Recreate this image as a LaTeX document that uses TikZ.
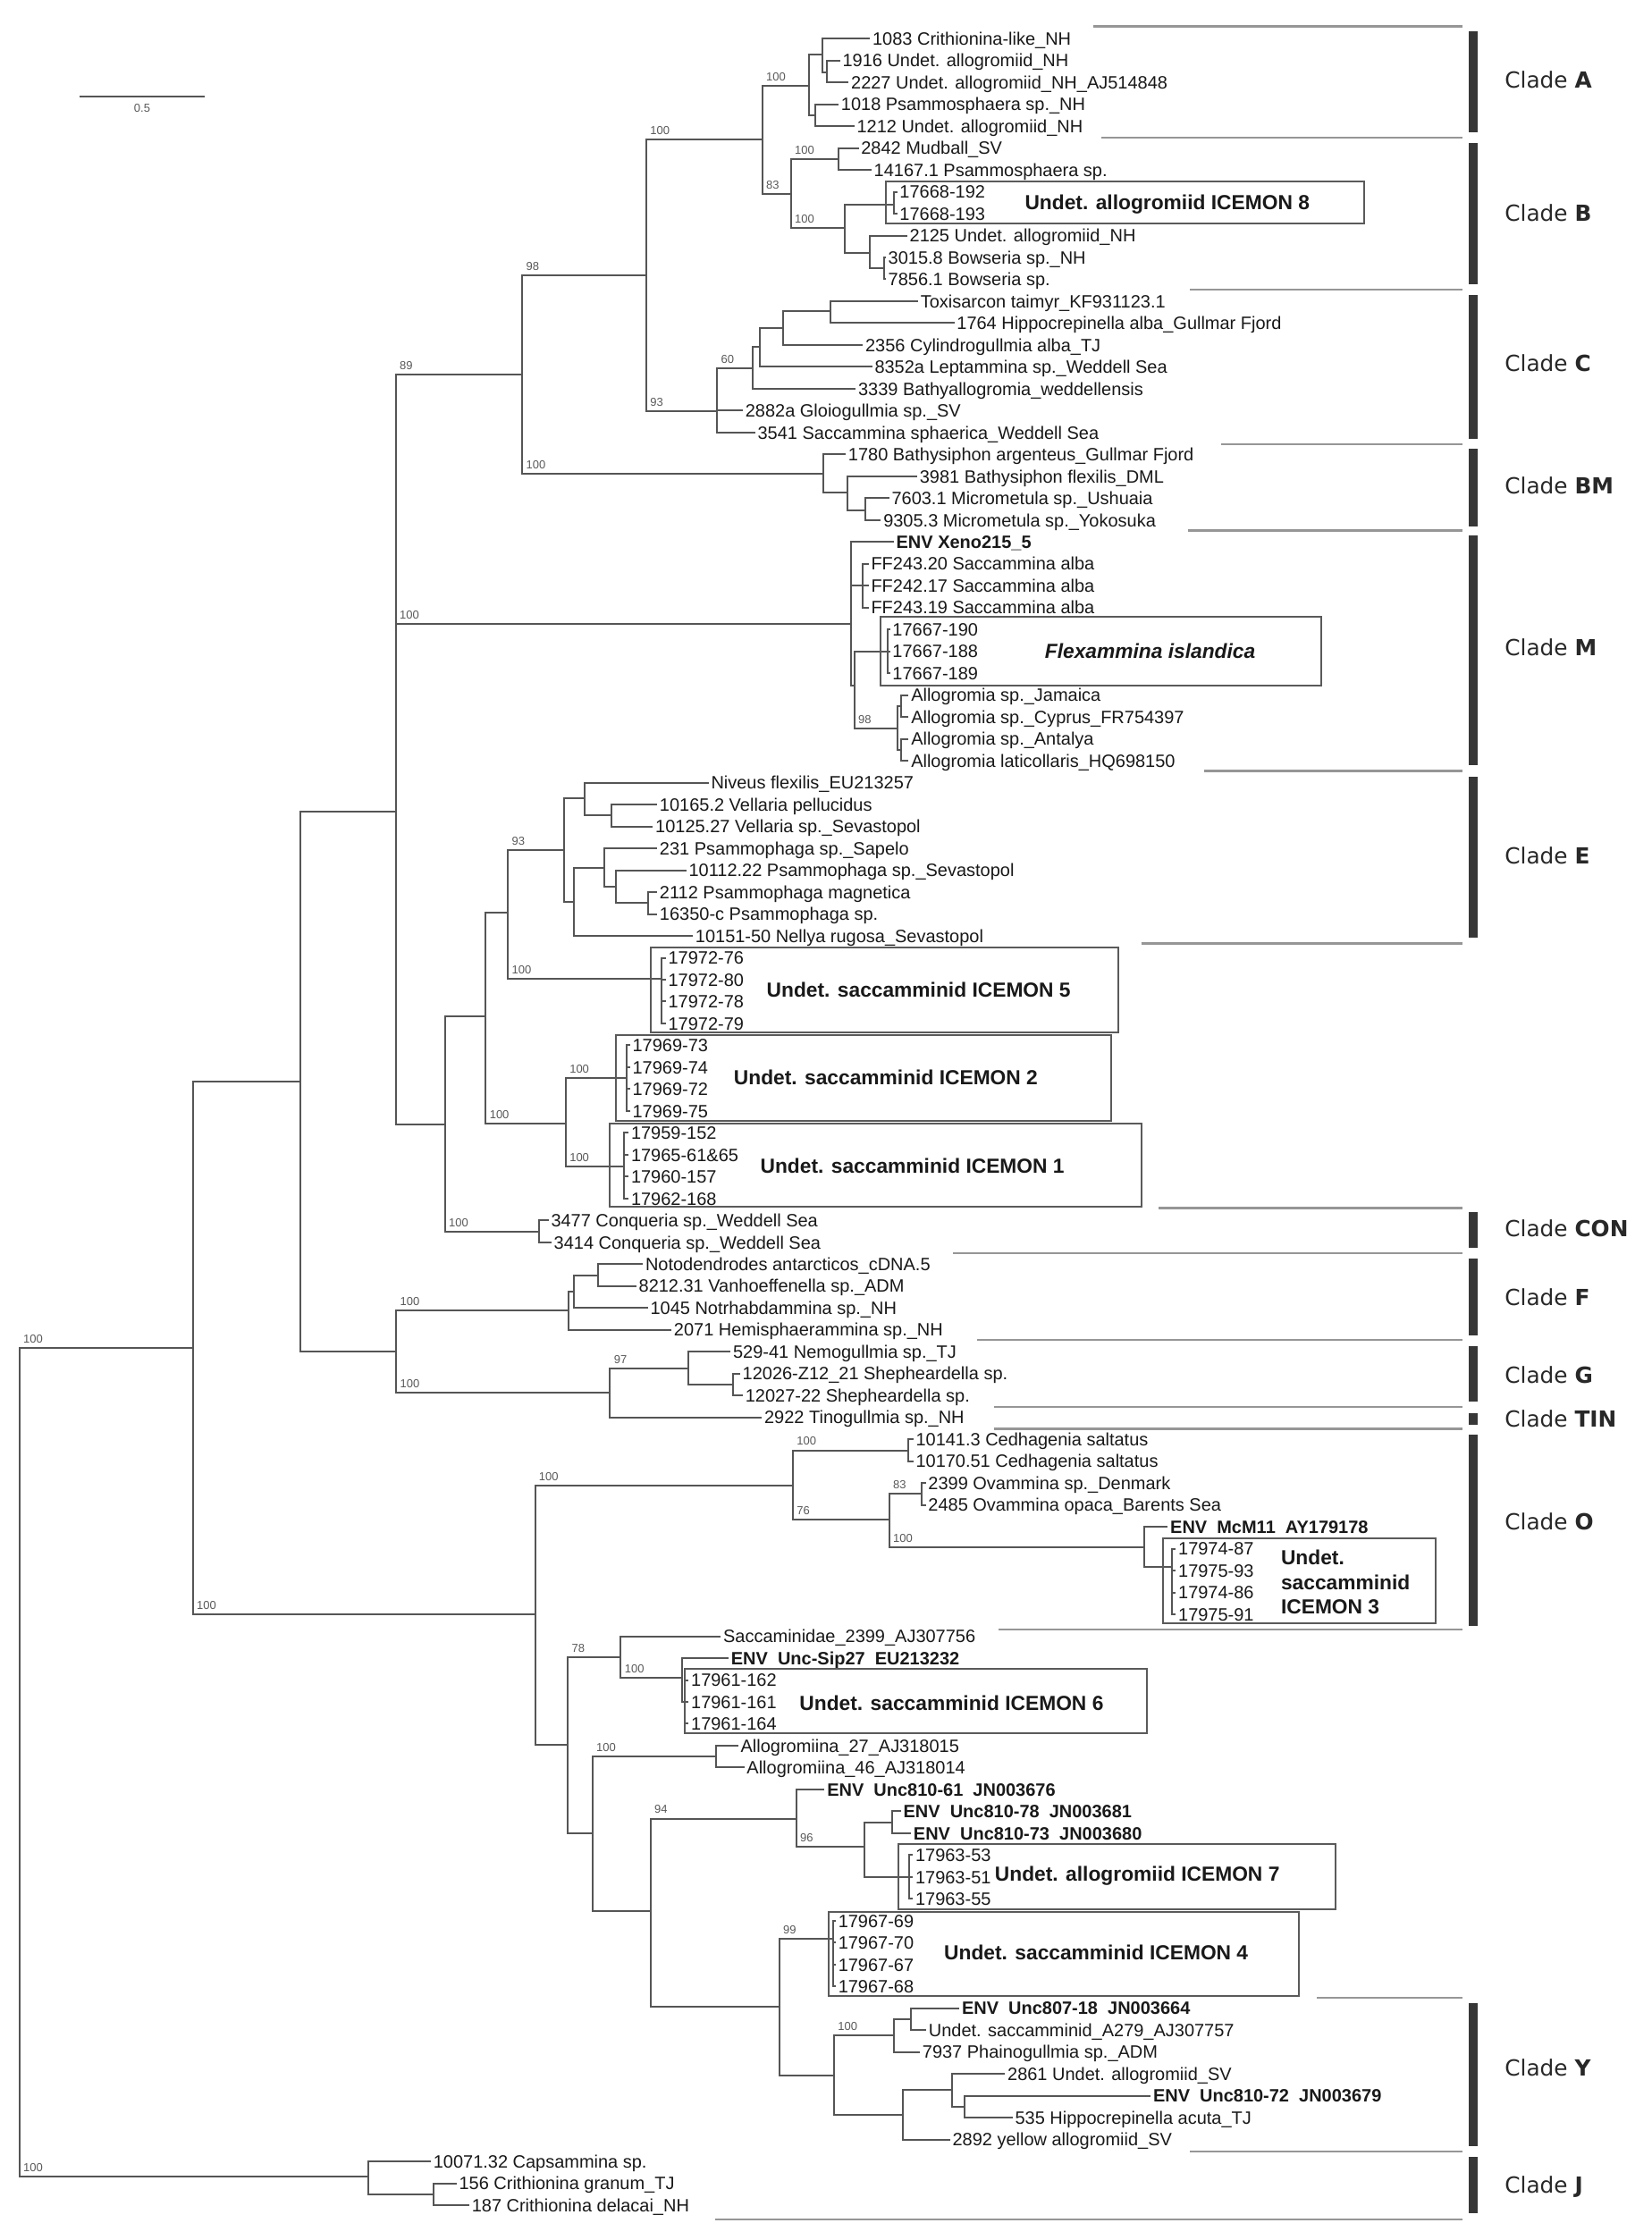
\documentclass[tikz,border=0pt]{standalone}
\usepackage{fontspec}
\setmainfont{Liberation Sans}
\newfontfamily\cladefont{DejaVu Sans}
\definecolor{brc}{RGB}{85,85,85}
\definecolor{bsc}{RGB}{90,90,90}
\definecolor{sepc}{RGB}{150,150,150}
\definecolor{barc}{RGB}{55,55,55}
\definecolor{boxc}{RGB}{90,90,90}
\definecolor{cladec}{RGB}{40,40,40}
\definecolor{taxc}{RGB}{25,25,25}
\tikzset{
 br/.style={draw=brc, line width=1pt},
 tax/.style={anchor=base west, inner sep=0pt, xshift=1.2pt, yshift=-3.6pt, font=\fontsize{10}{12}\selectfont, text=taxc},
 taxb/.style={tax, font=\fontsize{10}{12}\selectfont\bfseries},
 bsl/.style={anchor=base west, inner sep=0pt, font=\fontsize{6.5}{7}\selectfont, text=bsc},
 grp/.style={inner sep=0pt, font=\fontsize{11.4}{13.7}\selectfont\bfseries, text=taxc},
 sep/.style={draw=sepc, line width=1.1pt},
 gbox/.style={draw=boxc, line width=1pt},
 clade/.style={anchor=west, inner sep=0pt, font=\cladefont\fontsize{12.4}{14}\selectfont, text=cladec},
}
\newcommand\lf[5]{%
 \pgfmathsetmacro\ly{27+15.32*#3}%
 \coordinate (#1) at (#2,\ly);
 \draw[br] (#4) |- (#1);
 \node[tax] (#1t) at (#1) {#5};}
\newcommand\lfb[5]{%
 \pgfmathsetmacro\ly{27+15.32*#3}%
 \coordinate (#1) at (#2,\ly);
 \draw[br] (#4) |- (#1);
 \node[taxb] (#1t) at (#1) {#5};}
\newcommand\bsv[4]{\node[bsl] (#1) at (#2+2.5,#3-3.5) {#4};}
\begin{document}
\begin{tikzpicture}[x=0.8pt,y=-0.8pt]
\fill[white] (0,0) rectangle (1156,1568);
\useasboundingbox (0,0) rectangle (1156,1568);
% internal nodes
\coordinate (R) at (13.6,1233);
\coordinate (N1) at (135,943.8);
\coordinate (N2) at (210,757);
\coordinate (N3) at (277,568);
\coordinate (NFG) at (277.4,946);
\coordinate (N89) at (365.6,262);
\coordinate (NM) at (595.5,437);
\coordinate (NEp) at (311.5,787);
\coordinate (N98) at (452.4,193);
\coordinate (NBM) at (576,331.5);
\coordinate (NAB) at (533.6,97.5);
\coordinate (NC) at (502,288);
\coordinate (NA) at (566,60);
\coordinate (NB) at (553.6,136);
\coordinate (NA1) at (575.6,38);
\coordinate (NA1b) at (579,50.5);
\coordinate (NA2) at (570.6,81);
\coordinate (NB1) at (586.6,111.5);
\coordinate (NB2) at (591,159.6);
\coordinate (NI8) at (625.6,143);
\coordinate (NB3) at (609,177);
\coordinate (NB4) at (619,188);
\coordinate (NC60) at (527,258);
\coordinate (NC2) at (531.6,243);
\coordinate (NC3) at (548,229.4);
\coordinate (NC4) at (581.4,218);
\coordinate (NBM2) at (593.4,345);
\coordinate (NBM3) at (605.6,357);
\coordinate (NM2) at (603.6,410);
\coordinate (NM3) at (598,480);
\coordinate (NFlex) at (621,456);
\coordinate (NAllo) at (628.5,510);
\coordinate (NAl1) at (631,494);
\coordinate (NAl2) at (631,525);
\coordinate (N340) at (340,711.7);
\coordinate (NCon) at (377,862);
\coordinate (N355) at (355.6,639);
\coordinate (N396) at (396,786.5);
\coordinate (NE) at (395,595);
\coordinate (NI5) at (463,685);
\coordinate (NE1) at (409,558.6);
\coordinate (NVel) at (428,570.5);
\coordinate (NE2) at (401.6,631.5);
\coordinate (NPs) at (422.7,607.4);
\coordinate (NPs2) at (431.4,620.5);
\coordinate (NPs3) at (453.4,631.8);
\coordinate (NI2) at (438.9,754.4);
\coordinate (NI1) at (436.6,816.3);
\coordinate (NF) at (398,917.5);
\coordinate (NF1) at (401.6,904);
\coordinate (NF2) at (418.3,892.6);
\coordinate (NG) at (427,975);
\coordinate (NG1) at (481.5,957.7);
\coordinate (NG2) at (512.8,969.2);
\coordinate (NO) at (374.5,1130);
\coordinate (NOc) at (555,1040);
\coordinate (NS) at (397.5,1221.6);
\coordinate (NCed) at (636,1015.2);
\coordinate (NO2) at (622.4,1063.8);
\coordinate (NOv) at (645,1045.8);
\coordinate (NMc) at (800.7,1083.2);
\coordinate (NI3) at (820.5,1096.6);
\coordinate (N78) at (434.5,1160.2);
\coordinate (NI6p) at (477.6,1174.2);
\coordinate (NI6) at (479,1191.4);
\coordinate (NAl) at (414.7,1283);
\coordinate (NAg) at (500.9,1229.6);
\coordinate (N94) at (455.3,1338);
\coordinate (N96) at (557.4,1273);
\coordinate (N96b) at (604.8,1292.8);
\coordinate (N78b) at (624.5,1275.7);
\coordinate (NI7) at (636.4,1313.9);
\coordinate (N99) at (545.5,1404.8);
\coordinate (NI4) at (582.9,1357.4);
\coordinate (NY) at (583.8,1452.7);
\coordinate (NY1) at (625.5,1424.8);
\coordinate (NY1a) at (637.3,1413.5);
\coordinate (NY2) at (632,1480.5);
\coordinate (NY2a) at (666.2,1462.7);
\coordinate (NY2b) at (675,1474.8);
\coordinate (NJ) at (257.5,1523.5);
\coordinate (NJ2) at (303.4,1536);
% internal branches
\foreach \p/\c in {R/N1,R/NJ,N1/N2,N1/NO,N2/N3,N2/NFG,N3/N89,N3/NM,N3/NEp,N89/N98,N89/NBM,N98/NAB,N98/NC,NAB/NA,NAB/NB,NA/NA1,NA/NA2,NA1/NA1b,NB/NB1,NB/NB2,NB2/NI8,NB2/NB3,NB3/NB4,NC/NC60,NC60/NC2,NC2/NC3,NC3/NC4,NBM/NBM2,NBM2/NBM3,NM/NM2,NM/NM3,NM3/NFlex,NM3/NAllo,NAllo/NAl1,NAllo/NAl2,NEp/N340,NEp/NCon,N340/N355,N340/N396,N355/NE,N355/NI5,NE/NE1,NE/NE2,NE1/NVel,NE2/NPs,NPs/NPs2,NPs2/NPs3,N396/NI2,N396/NI1,NFG/NF,NFG/NG,NF/NF1,NF1/NF2,NG/NG1,NG1/NG2,NO/NOc,NO/NS,NOc/NCed,NOc/NO2,NO2/NOv,NO2/NMc,NMc/NI3,NS/N78,NS/NAl,N78/NI6p,NI6p/NI6,NAl/NAg,NAl/N94,N94/N96,N94/N99,N96/N96b,N96b/N78b,N96b/NI7,N99/NI4,N99/NY,NY/NY1,NY/NY2,NY1/NY1a,NY2/NY2a,NY2a/NY2b,NJ/NJ2}
  \draw[br] (\p) |- (\c);
% leaves
\lf{L0}{609}{0}{NA1}{1083 Crithionina-like\_NH}
\lf{L1}{588}{1}{NA1b}{1916 Undet. allogromiid\_NH}
\lf{L2}{594}{2}{NA1b}{2227 Undet. allogromiid\_NH\_AJ514848}
\lf{L3}{587}{3}{NA2}{1018 Psammosphaera sp.\_NH}
\lf{L4}{598}{4}{NA2}{1212 Undet. allogromiid\_NH}
\lf{L5}{601}{5}{NB1}{2842 Mudball\_SV}
\lf{L6}{610}{6}{NB1}{14167.1 Psammosphaera sp.}
\lf{L7}{628}{7}{NI8}{17668-192}
\lf{L8}{628}{8}{NI8}{17668-193}
\lf{L9}{635}{9}{NB3}{2125 Undet. allogromiid\_NH}
\lf{L10}{620}{10}{NB4}{3015.8 Bowseria sp.\_NH}
\lf{L11}{620}{11}{NB4}{7856.1 Bowseria sp.}
\lf{L12}{642.6}{12}{NC4}{Toxisarcon taimyr\_KF931123.1}
\lf{L13}{668}{13}{NC4}{1764 Hippocrepinella alba\_Gullmar Fjord}
\lf{L14}{604}{14}{NC3}{2356 Cylindrogullmia alba\_TJ}
\lf{L15}{610.5}{15}{NC2}{8352a Leptammina sp.\_Weddell Sea}
\lf{L16}{599}{16}{NC60}{3339 Bathyallogromia\_weddellensis}
\lf{L17}{520}{17}{NC}{2882a Gloiogullmia sp.\_SV}
\lf{L18}{528.6}{18}{NC}{3541 Saccammina sphaerica\_Weddell Sea}
\lf{L19}{592}{19}{NBM}{1780 Bathysiphon argenteus\_Gullmar Fjord}
\lf{L20}{642}{20}{NBM2}{3981 Bathysiphon flexilis\_DML}
\lf{L21}{622.4}{21}{NBM3}{7603.1 Micrometula sp.\_Ushuaia}
\lf{L22}{616.6}{22}{NBM3}{9305.3 Micrometula sp.\_Yokosuka}
\lfb{L23}{625.6}{23}{NM}{ENV Xeno215\_5}
\lf{L24}{608}{24}{NM2}{FF243.20 Saccammina alba}
\lf{L25}{608}{25}{NM2}{FF242.17 Saccammina alba}
\lf{L26}{608}{26}{NM2}{FF243.19 Saccammina alba}
\lf{L27}{623}{27}{NFlex}{17667-190}
\lf{L28}{623}{28}{NFlex}{17667-188}
\lf{L29}{623}{29}{NFlex}{17667-189}
\lf{L30}{636}{30}{NAl1}{Allogromia sp.\_Jamaica}
\lf{L31}{636}{31}{NAl1}{Allogromia sp.\_Cyprus\_FR754397}
\lf{L32}{636}{32}{NAl2}{Allogromia sp.\_Antalya}
\lf{L33}{636}{33}{NAl2}{Allogromia laticollaris\_HQ698150}
\lf{L34}{496}{34}{NE1}{Niveus flexilis\_EU213257}
\lf{L35}{460}{35}{NVel}{10165.2 Vellaria pellucidus}
\lf{L36}{457}{36}{NVel}{10125.27 Vellaria sp.\_Sevastopol}
\lf{L37}{460}{37}{NPs}{231 Psammophaga sp.\_Sapelo}
\lf{L38}{480.4}{38}{NPs2}{10112.22 Psammophaga sp.\_Sevastopol}
\lf{L39}{460}{39}{NPs3}{2112 Psammophaga magnetica}
\lf{L40}{460}{40}{NPs3}{16350-c Psammophaga sp.}
\lf{L41}{485}{41}{NE2}{10151-50 Nellya rugosa\_Sevastopol}
\lf{L42}{466}{42}{NI5}{17972-76}
\lf{L43}{466}{43}{NI5}{17972-80}
\lf{L44}{466}{44}{NI5}{17972-78}
\lf{L45}{466}{45}{NI5}{17972-79}
\lf{L46}{441}{46}{NI2}{17969-73}
\lf{L47}{441}{47}{NI2}{17969-74}
\lf{L48}{441}{48}{NI2}{17969-72}
\lf{L49}{441}{49}{NI2}{17969-75}
\lf{L50}{440}{50}{NI1}{17959-152}
\lf{L51}{440}{51}{NI1}{17965-61\&65}
\lf{L52}{440}{52}{NI1}{17960-157}
\lf{L53}{440}{53}{NI1}{17962-168}
\lf{L54}{384}{54}{NCon}{3477 Conqueria sp.\_Weddell Sea}
\lf{L55}{386}{55}{NCon}{3414 Conqueria sp.\_Weddell Sea}
\lf{L56}{450}{56}{NF2}{Notodendrodes antarcticos\_cDNA.5}
\lf{L57}{445.4}{57}{NF2}{8212.31 Vanhoeffenella sp.\_ADM}
\lf{L58}{453.5}{58}{NF1}{1045 Notrhabdammina sp.\_NH}
\lf{L59}{470}{59}{NF}{2071 Hemisphaerammina sp.\_NH}
\lf{L60}{511.4}{60}{NG1}{529-41 Nemogullmia sp.\_TJ}
\lf{L61}{518}{61}{NG2}{12026-Z12\_21 Shepheardella sp.}
\lf{L62}{520}{62}{NG2}{12027-22 Shepheardella sp.}
\lf{L63}{533.3}{63}{NG}{2922 Tinogullmia sp.\_NH}
\lf{L64}{639.3}{64}{NCed}{10141.3 Cedhagenia saltatus}
\lf{L65}{639.3}{65}{NCed}{10170.51 Cedhagenia saltatus}
\lf{L66}{648}{66}{NOv}{2399 Ovammina sp.\_Denmark}
\lf{L67}{648}{67}{NOv}{2485 Ovammina opaca\_Barents Sea}
\lfb{L68}{817.4}{68}{NMc}{ENV~~McM11~~AY179178}
\lf{L69}{823}{69}{NI3}{17974-87}
\lf{L70}{823}{70}{NI3}{17975-93}
\lf{L71}{823}{71}{NI3}{17974-86}
\lf{L72}{823}{72}{NI3}{17975-91}
\lf{L73}{504.5}{73}{N78}{Saccaminidae\_2399\_AJ307756}
\lfb{L74}{510}{74}{NI6p}{ENV~~Unc-Sip27~~EU213232}
\lf{L75}{482}{75}{NI6}{17961-162}
\lf{L76}{482}{76}{NI6}{17961-161}
\lf{L77}{482}{77}{NI6}{17961-164}
\lf{L78}{516.7}{78}{NAg}{Allogromiina\_27\_AJ318015}
\lf{L79}{521}{79}{NAg}{Allogromiina\_46\_AJ318014}
\lfb{L80}{577.2}{80}{N96}{ENV~~Unc810-61~~JN003676}
\lfb{L81}{630.6}{81}{N78b}{ENV~~Unc810-78~~JN003681}
\lfb{L82}{637.7}{82}{N78b}{ENV~~Unc810-73~~JN003680}
\lf{L83}{639}{83}{NI7}{17963-53}
\lf{L84}{639}{84}{NI7}{17963-51}
\lf{L85}{639}{85}{NI7}{17963-55}
\lf{L86}{585}{86}{NI4}{17967-69}
\lf{L87}{585}{87}{NI4}{17967-70}
\lf{L88}{585}{88}{NI4}{17967-67}
\lf{L89}{585}{89}{NI4}{17967-68}
\lfb{L90}{671.5}{90}{NY1a}{ENV~~Unc807-18~~JN003664}
\lf{L91}{648.3}{91}{NY1a}{Undet. saccamminid\_A279\_AJ307757}
\lf{L92}{643.9}{92}{NY1}{7937 Phainogullmia sp.\_ADM}
\lf{L93}{703.5}{93}{NY2a}{2861 Undet. allogromiid\_SV}
\lfb{L94}{805.4}{94}{NY2b}{ENV~~Unc810-72~~JN003679}
\lf{L95}{708.8}{95}{NY2b}{535 Hippocrepinella acuta\_TJ}
\lf{L96}{665}{96}{NY2}{2892 yellow allogromiid\_SV}
\lf{L97}{301.6}{97}{NJ}{10071.32 Capsammina sp.}
\lf{L98}{319.6}{98}{NJ2}{156 Crithionina granum\_TJ}
\lf{L99}{328.5}{99}{NJ2}{187 Crithionina delacai\_NH}
% bootstrap values
\bsv{b1}{13.6}{943.8}{100}
\bsv{b2}{13.6}{1523.5}{100}
\bsv{b3}{135}{1130}{100}
\bsv{b4}{277}{262}{89}
\bsv{b5}{277}{437}{100}
\bsv{b6}{365.6}{193}{98}
\bsv{b7}{365.6}{331.5}{100}
\bsv{b8}{452.4}{97.5}{100}
\bsv{b9}{452.4}{288}{93}
\bsv{b10}{533.6}{60}{100}
\bsv{b11}{533.6}{136}{83}
\bsv{b12}{553.6}{111.5}{100}
\bsv{b13}{553.6}{159.6}{100}
\bsv{b14}{502}{258}{60}
\bsv{b15}{355.6}{595}{93}
\bsv{b16}{355.6}{685}{100}
\bsv{b17}{340}{786.5}{100}
\bsv{b18}{311.5}{862}{100}
\bsv{b19}{396}{754.4}{100}
\bsv{b20}{396}{816.3}{100}
\bsv{b21}{277.4}{917.5}{100}
\bsv{b22}{277.4}{975}{100}
\bsv{b23}{427}{957.7}{97}
\bsv{b24}{374.5}{1040}{100}
\bsv{b25}{555}{1015.2}{100}
\bsv{b26}{555}{1063.8}{76}
\bsv{b27}{622.4}{1045.8}{83}
\bsv{b28}{622.4}{1083.2}{100}
\bsv{b29}{397.5}{1160.2}{78}
\bsv{b30}{434.5}{1174.2}{100}
\bsv{b31}{414.7}{1229.6}{100}
\bsv{b32}{455.3}{1273}{94}
\bsv{b33}{557.4}{1292.8}{96}
\bsv{b34}{545.5}{1357.4}{99}
\bsv{b35}{583.8}{1424.8}{100}
\bsv{b36}{598}{510}{98}
% group boxes and labels
\draw[gbox] (620,127) rectangle (955,156.5);
\node[grp] (gI8) at (817,143) {Undet. allogromiid ICEMON 8};
\draw[gbox] (616.6,432) rectangle (924.6,480);
\node[grp] (gFl) at (805,456) {\itshape Flexammina islandica};
\draw[gbox] (455.5,663) rectangle (783,722.5);
\node[grp] (gI5) at (643,693) {Undet. saccamminid ICEMON 5};
\draw[gbox] (431.4,724.8) rectangle (778,784.4);
\node[grp] (gI2) at (620,754) {Undet. saccamminid ICEMON 2};
\draw[gbox] (427,786.5) rectangle (798.8,844.5);
\node[grp] (gI1) at (638.6,816) {Undet. saccamminid ICEMON 1};
\draw[gbox] (814.3,1077) rectangle (1005,1136.5);
\node[grp, anchor=west, align=left] (gI3) at (896.4,1107.5) {Undet.\\saccamminid\\ICEMON 3};
\draw[gbox] (479.5,1168) rectangle (803,1213);
\node[grp] (gI6) at (666,1192) {Undet. saccamminid ICEMON 6};
\draw[gbox] (629,1291) rectangle (934.8,1336.6);
\node[grp] (gI7) at (796,1313) {Undet. allogromiid ICEMON 7};
\draw[gbox] (580.3,1338.2) rectangle (909.3,1397);
\node[grp] (gI4) at (767.2,1367) {Undet. saccamminid ICEMON 4};
% separators
\foreach \yy/\xx in {18.4/765,96.2/771,202.5/832.7,311.1/854.6,371.4/831.7,539.6/842.6,660.4/798.8,845.6/811,877.4/667,938.1/683.7,984.8/695.6,1000.2/695.6,1140.7/698.9,1398.5/921.7,1506.1/833,1553.5/500.4}
  \draw[sep] (\xx,\yy) -- (1023.4,\yy);
% clade bars
\foreach \ya/\yb in {21.8/92.3,100.1/198.7,206.4/307,313.8/368.3,375/535.8,543.6/656.2,848.6/873.6,881.2/934.8,942.3/980.8,989/997.5,1004/1138,1402/1502,1510/1549}
  \fill[barc] (1028,\ya) rectangle (1034,\yb);
\node[clade] (cA) at (1053,56) {Clade \textbf{A}};
\node[clade] (cB) at (1053,149) {Clade \textbf{B}};
\node[clade] (cC) at (1053,254) {Clade \textbf{C}};
\node[clade] (cBM) at (1053,340) {Clade \textbf{BM}};
\node[clade] (cM) at (1053,453) {Clade \textbf{M}};
\node[clade] (cE) at (1053,599) {Clade \textbf{E}};
\node[clade] (cCON) at (1053,859.6) {Clade \textbf{CON}};
\node[clade] (cF) at (1053,908.3) {Clade \textbf{F}};
\node[clade] (cG) at (1053,962.4) {Clade \textbf{G}};
\node[clade] (cTIN) at (1053,993.4) {Clade \textbf{TIN}};
\node[clade] (cO) at (1053,1065) {Clade \textbf{O}};
\node[clade] (cY) at (1053,1447.5) {Clade \textbf{Y}};
\node[clade] (cJ) at (1053,1531) {Clade \textbf{J}};
% scale bar
\coordinate (sb1) at (55.9,67.4);
\coordinate (sb2) at (143,67.4);
\draw[br] (sb1) -- (sb2);
\node[bsl, anchor=center] (sbl) at (99.5,75.5) {0.5};
\end{tikzpicture}
\end{document}
